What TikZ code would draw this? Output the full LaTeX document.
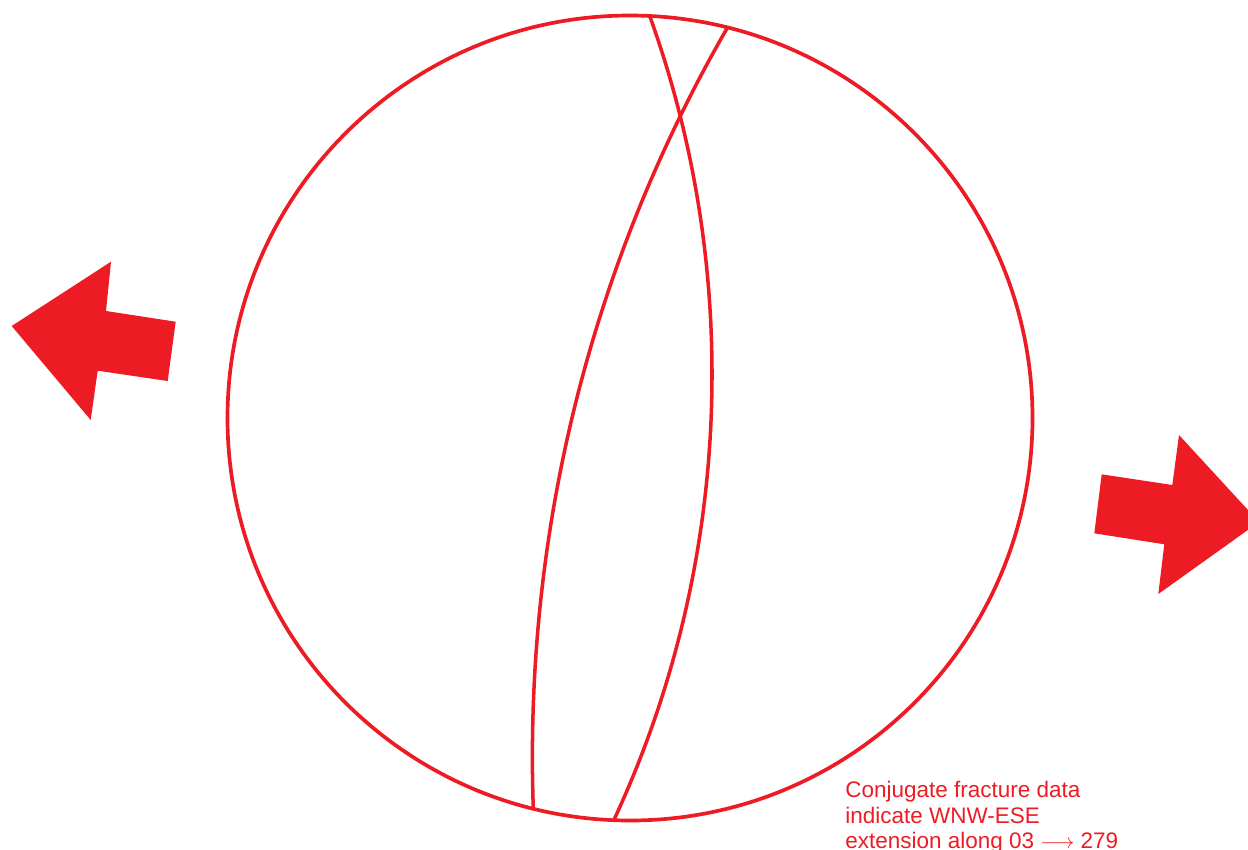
\documentclass[tikz,border=0pt]{standalone}
\usepackage{fontspec}
\setmainfont{Liberation Sans}
\usepackage{xcolor}

\definecolor{netred}{RGB}{237,28,36}

\begin{document}
\begin{tikzpicture}[
      x=0.02cm, y=-0.02cm,
      prim/.style={draw=netred, line width=2.1pt},
      plane/.style={draw=netred, line width=2pt},
      push/.style={fill=netred, draw=none},
      note/.style={text=netred, align=left, inner sep=0pt, anchor=north west,
                   font=\fontsize{12.8}{14.5}\selectfont},
    ]
    \useasboundingbox (0,0) rectangle (1248,849);
    \clip (0,0) rectangle (1248,849);

    % Stereonet: primitive and two fracture planes
    \coordinate (centre) at (630,418);
    \begin{scope}
      \clip (centre) circle (402.5);
      \draw[plane] (-345.8,374.5) circle (1057.8);
      \draw[plane] (1991.8,757) circle (1459.4);
    \end{scope}
    \draw[prim] (centre) circle (402.5);

    % Extension arrows: WNW and ESE
    \fill[push] (11.7,326) -- (111,261.7) -- (106,311) -- (175.7,321.7)
      -- (167.7,381) -- (97.7,370.7) -- (90.7,420) -- cycle;
    \fill[push] (1259,522) -- (1179,435) -- (1172.3,485) -- (1101.7,474.3)
      -- (1094.3,533.3) -- (1164.3,544.3) -- (1158.3,594) -- cycle;

    % Caption
    \node[note] (caption) at (845,781)
      {Conjugate fracture data\\indicate WNW-ESE\\extension along 03 $\longrightarrow$ 279};

    \end{tikzpicture}
\end{document}
